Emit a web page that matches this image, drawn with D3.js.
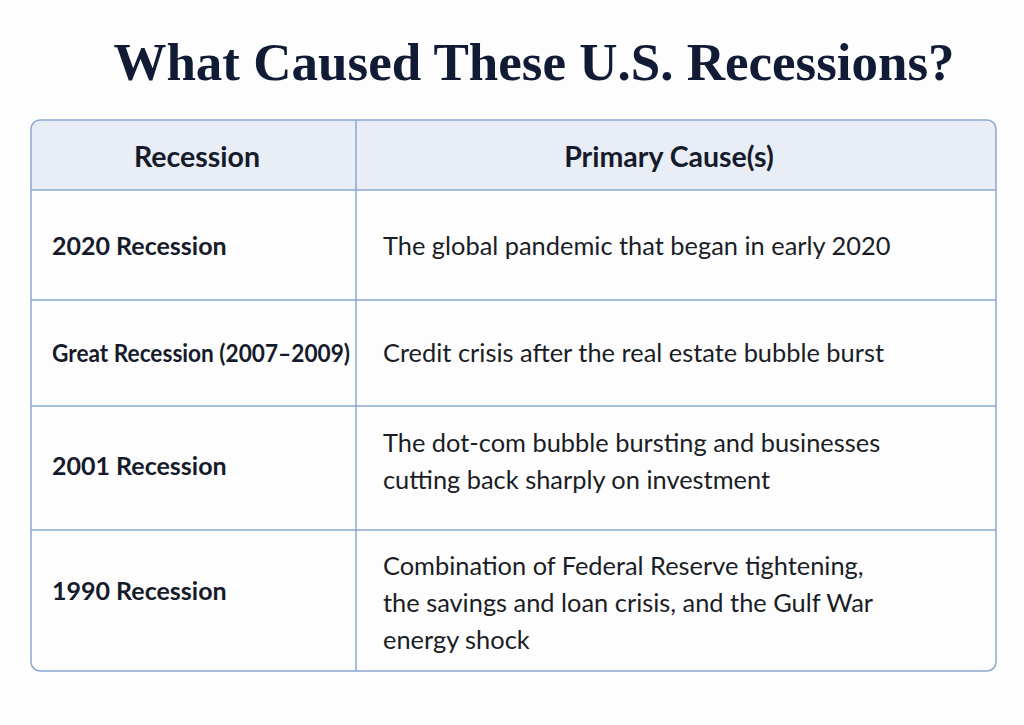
<!DOCTYPE html>
<html>
<head>
<meta charset="utf-8">
<script src="https://cdn.jsdelivr.net/npm/d3@7"></script>
<style>
  body { margin: 0; background: #fdfdfd; }
  svg { display: block; }
</style>
</head>
<body>
<svg id="chart"></svg>
<script>
// table content
const titleText = "What Caused These U.S. Recessions?"
const headers = ["Recession", "Primary Cause(s)"]
const recessions = ["2020 Recession", "Great Recession (2007\u20132009)", "2001 Recession", "1990 Recession"]
const causes = [
    ["The global pandemic that began in early 2020"],
    ["Credit crisis after the real estate bubble burst"],
    ["The dot-com bubble bursting and businesses", "cutting back sharply on investment"],
    ["Combination of Federal Reserve tightening,", "the savings and loan crisis, and the Gulf War", "energy shock"]
]

const width = 1024, height = 725
const table = { left: 31, right: 996, top: 120, headerBottom: 190, bottom: 671, divider: 356 }
// relative row weights (taller rows for more lines)
const rowWeights = [110, 106, 124, 141]
// small nudges so the text sits like the original
const labelNudge = [1, 0, -2, -9]
const causeNudge = [1, 0, -6, 3]
const lineGap = 37
const borderColor = "#8ba7d3"

const svg = d3.select("#chart").attr("width", width).attr("height", height)

svg.append("text")
    .attr("x", 534)
    .attr("y", 80)
    .attr("text-anchor", "middle")
    .attr("font-family", "Liberation Serif, serif")
    .attr("font-weight", "bold")
    .attr("font-size", 53)
    .attr("fill", "#121b35")
    .text(titleText)

// row positions from cumulative weights
const cum = [0]
rowWeights.forEach((w, i) => cum.push(cum[i] + w))
const yScale = d3.scaleLinear()
    .domain([0, cum[cum.length - 1]])
    .range([table.headerBottom, table.bottom])
const rowMid = i => (yScale(cum[i]) + yScale(cum[i + 1])) / 2

const xCol = d3.scaleOrdinal().domain(headers).range([table.left, table.divider])

// header background with rounded top corners
const r = 9
svg.append("path")
    .attr("d", `M${table.left},${table.headerBottom} V${table.top + r} Q${table.left},${table.top} ${table.left + r},${table.top} H${table.right - r} Q${table.right},${table.top} ${table.right},${table.top + r} V${table.headerBottom} Z`)
    .attr("fill", "#e9eef6")

// outer border
svg.append("rect")
    .attr("x", table.left)
    .attr("y", table.top)
    .attr("width", table.right - table.left)
    .attr("height", table.bottom - table.top)
    .attr("rx", r)
    .attr("fill", "none")
    .attr("stroke", borderColor)
    .attr("stroke-width", 1.5)

// horizontal row lines
svg.selectAll(".hline")
    .data([0].concat(cum.slice(1, -1)))
    .enter()
    .append("line")
    .attr("class", "hline")
    .attr("x1", table.left)
    .attr("x2", table.right)
    .attr("y1", d => yScale(d))
    .attr("y2", d => yScale(d))
    .attr("stroke", borderColor)
    .attr("stroke-width", 1.5)

// column divider
svg.append("line")
    .attr("x1", table.divider)
    .attr("x2", table.divider)
    .attr("y1", table.top)
    .attr("y2", table.bottom)
    .attr("stroke", borderColor)
    .attr("stroke-width", 1.5)

// header labels
const headerCenters = [197, 669]
svg.selectAll(".header")
    .data(headers)
    .enter()
    .append("text")
    .attr("class", "header")
    .attr("x", (d, i) => headerCenters[i])
    .attr("y", (table.top + table.headerBottom) / 2 + 2)
    .attr("dy", "0.35em")
    .attr("text-anchor", "middle")
    .attr("font-family", "Lato, sans-serif")
    .attr("font-weight", "bold")
    .attr("font-size", 28.5)
    .attr("fill", "#161b2c")
    .text(d => d)

// row labels, squeezed if they would run into the divider
const labelMax = table.divider - table.left - 27
svg.selectAll(".label")
    .data(recessions)
    .enter()
    .append("text")
    .attr("class", "label")
    .attr("x", xCol(headers[0]) + 21)
    .attr("y", (d, i) => rowMid(i) + labelNudge[i])
    .attr("dy", "0.35em")
    .attr("font-family", "Lato, sans-serif")
    .attr("font-weight", "bold")
    .attr("font-size", 25)
    .attr("fill", "#161b2c")
    .text(d => d)
    .each(function () {
        if (this.getComputedTextLength() > labelMax) {
            d3.select(this).attr("textLength", labelMax).attr("lengthAdjust", "spacingAndGlyphs")
        }
    })

// causes, possibly multi-line
svg.selectAll(".cause")
    .data(causes)
    .enter()
    .append("text")
    .attr("class", "cause")
    .attr("font-family", "Lato, sans-serif")
    .attr("font-size", 25.4)
    .attr("fill", "#1a1d26")
    .each(function (lines, i) {
        const start = rowMid(i) + causeNudge[i] - (lines.length - 1) * lineGap / 2
        d3.select(this).selectAll("tspan")
            .data(lines)
            .enter()
            .append("tspan")
            .attr("x", xCol(headers[1]) + 27)
            .attr("y", (d, j) => start + j * lineGap)
            .attr("dy", "0.35em")
            .text(d => d)
    })
</script>
</body>
</html>
